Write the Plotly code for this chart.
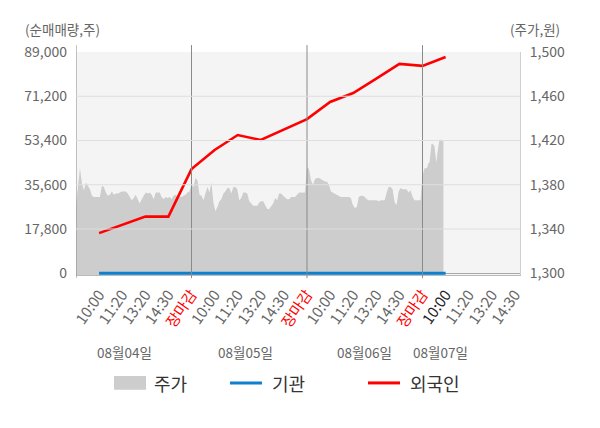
import numpy as np
import plotly.graph_objects as go

# ---- data ----
# x axis: 5 labelled ticks per trading day (10:00 ... 장마감)
tick_text = ["10:00", "11:20", "13:20", "14:30", "장마감"] * 3 + ["10:00", "11:20", "13:20", "14:30"]
day_labels = ["08월04일", "08월05일", "08월06일", "08월07일"]
day_label_pos = [2.12, 7.32, 12.5, 15.76]

# 주가 (won), intraday, per trading day
price_d1 = [1362, 1381, 1395, 1381, 1375, 1382, 1379, 1376, 1370, 1369,
            1369, 1369, 1369, 1379, 1378, 1373, 1370, 1371, 1374, 1371,
            1372, 1372, 1373, 1374, 1374, 1374, 1372, 1369, 1366, 1368,
            1371, 1367, 1363, 1367, 1370, 1373, 1372, 1373, 1371, 1367,
            1373, 1373, 1373, 1369, 1367, 1369, 1368, 1369, 1367, 1370,
            1371, 1369, 1369, 1369, 1370, 1371, 1373, 1374]
price_d2 = [1380, 1378, 1386, 1384, 1371, 1370, 1366, 1371, 1378, 1373,
            1382, 1364, 1356, 1360, 1365, 1367, 1372, 1374, 1377, 1377,
            1372, 1378, 1378, 1376, 1366, 1368, 1373, 1373, 1372, 1365,
            1363, 1361, 1361, 1361, 1364, 1365, 1365, 1361, 1358, 1358,
            1360, 1363, 1368, 1366, 1372, 1372, 1370, 1368, 1367, 1367,
            1369, 1369, 1369, 1371, 1373, 1373, 1373, 1373]
price_d3 = [1396, 1394, 1384, 1380, 1385, 1386, 1386, 1385, 1384, 1383,
            1383, 1380, 1374, 1373, 1372, 1371, 1370, 1369, 1369, 1369,
            1369, 1369, 1368, 1362, 1359, 1360, 1369, 1370, 1370, 1369,
            1367, 1366, 1366, 1366, 1366, 1366, 1365, 1366, 1366, 1366,
            1373, 1378, 1378, 1376, 1364, 1362, 1374, 1377, 1376, 1376,
            1376, 1373, 1375, 1369, 1366, 1366, 1366, 1366]
price_d4 = [1388, 1393, 1395, 1395, 1395, 1396, 1400, 1400, 1409, 1417,
            1417, 1416, 1415, 1407, 1400, 1409, 1418, 1421, 1421, 1420,
            1419, 1419]

# 순매매량 (cumulative, shares) at each labelled tick
foreign = [16150, 19500, 22800, 22800, 41900, 49600, 55600, 53600, 57900, 62000,
           68900, 72500, 78300, 84200, 83400, 87000]
institution = [0] * 16

left_ticks = [0, 17800, 35600, 53400, 71200, 89000]
right_ticks = [1300, 1340, 1380, 1420, 1460, 1500]

# ---- positions ----
slot = 5 / 116  # one intraday slot
px, py = [], []
for d, (vals, step) in enumerate([(price_d1, 2), (price_d2, 2), (price_d3, 2), (price_d4, 1)]):
    px += list(d * 5 + np.arange(len(vals)) * step * slot)
    py += vals
flow_x = list(range(1, len(foreign) + 1))

x_range = [0, 19.22]
left_range = [-700, 89000]
right_range = [1300 - 700 * 200 / 89000, 1500]

fig = go.Figure()
# price area on the base axis (drawn first), flows on the overlaying axis (drawn on top)
fig.add_trace(go.Scatter(x=px, y=py, yaxis="y", mode="lines", line=dict(width=0),
                         fill="tozeroy", fillcolor="#cdcdcd", name="주가", hoverinfo="skip"))
fig.add_trace(go.Scatter(x=flow_x, y=institution, yaxis="y2", mode="lines",
                         line=dict(color="#0f7fd0", width=3.2), name="기관"))
fig.add_trace(go.Scatter(x=flow_x, y=foreign, yaxis="y2", mode="lines",
                         line=dict(color="#ff0000", width=2.6), name="외국인"))

# tick labels: 장마감 red, the current 10:00 darker
labels = []
for i, t in enumerate(tick_text):
    if t == "장마감":
        labels.append('<span style="color:#ff0000">%s</span>' % t)
    elif i == 15:
        labels.append('<span style="color:#222222">%s</span>' % t)
    else:
        labels.append(t)

shapes = []
# day separators + left axis line (stick out a little above / below)
for xv in [0, 5, 10, 15]:
    shapes.append(dict(type="line", xref="x", yref="paper", x0=xv, x1=xv, y0=-0.014, y1=1.031,
                       line=dict(color="#8a8a8a", width=1), layer="above"))
# horizontal grid drawn over the price area
for v in left_ticks[1:-1]:
    shapes.append(dict(type="line", xref="paper", yref="y2", x0=0, x1=1, y0=v, y1=v,
                       line=dict(color="#dedede", width=1.2), layer="above"))

# legend drawn by hand
leg_y = -0.484
shapes.append(dict(type="rect", xref="paper", yref="paper", x0=0.0856, x1=0.1577,
                   y0=leg_y - 0.031, y1=leg_y + 0.031, fillcolor="#cdcdcd", line=dict(width=0)))
shapes.append(dict(type="line", xref="paper", yref="paper", x0=0.3468, x1=0.4189,
                   y0=leg_y, y1=leg_y, line=dict(color="#0f7fd0", width=3)))
shapes.append(dict(type="line", xref="paper", yref="paper", x0=0.6577, x1=0.7297,
                   y0=leg_y, y1=leg_y, line=dict(color="#ff0000", width=3)))

ann = []
for name, xp in [("주가", 0.172), ("기관", 0.438), ("외국인", 0.748)]:
    ann.append(dict(text=name, xref="paper", yref="paper", x=xp, y=leg_y, xanchor="left",
                    yanchor="middle", showarrow=False, font=dict(size=18, color="#333333")))
for lab, xv in zip(day_labels, day_label_pos):
    ann.append(dict(text=lab, xref="x", yref="paper", x=xv, y=-0.345, xanchor="center",
                    yanchor="middle", showarrow=False, font=dict(size=13.5, color="#666666")))
ann.append(dict(text="(순매매량,주)", xref="paper", yref="paper", x=-0.12, y=1.05,
                xanchor="left", yanchor="bottom", showarrow=False, font=dict(size=13.5, color="#666666")))
ann.append(dict(text="(주가,원)", xref="paper", yref="paper", x=0.973, y=1.05,
                xanchor="left", yanchor="bottom", showarrow=False, font=dict(size=13.5, color="#666666")))

# the page body adds an 8px offset, so margins are trimmed by 8 on the left/top
fig.update_layout(
    width=600, height=428,
    margin=dict(l=68, r=88, t=44, b=161),
    paper_bgcolor="white", plot_bgcolor="#f4f4f4",
    font=dict(family="Noto Sans CJK KR", size=14, color="#666666"),
    showlegend=False,
    xaxis=dict(range=x_range, tickmode="array", tickvals=list(range(1, 20)), ticktext=labels,
               tickangle=-55, showgrid=False, zeroline=False, showline=True, automargin=False,
               linecolor="#bbbbbb", ticks="", ticklabelstandoff=4,
               tickfont=dict(size=15, color="#666666")),
    yaxis=dict(range=right_range, side="right", tickmode="array", tickvals=right_ticks,
               tickformat=",", showgrid=False, zeroline=False, automargin=False,
               showline=True, linecolor="#d0d0d0", ticks="", ticklabelstandoff=6),
    yaxis2=dict(range=left_range, overlaying="y", side="left", tickmode="array",
                tickvals=left_ticks, tickformat=",", showgrid=False, automargin=False,
                zeroline=True, zerolinecolor="#aaaaaa", zerolinewidth=1,
                showline=False, ticks="", ticklabelstandoff=8),
    shapes=shapes, annotations=ann,
)

fig.write_html("out.html")
